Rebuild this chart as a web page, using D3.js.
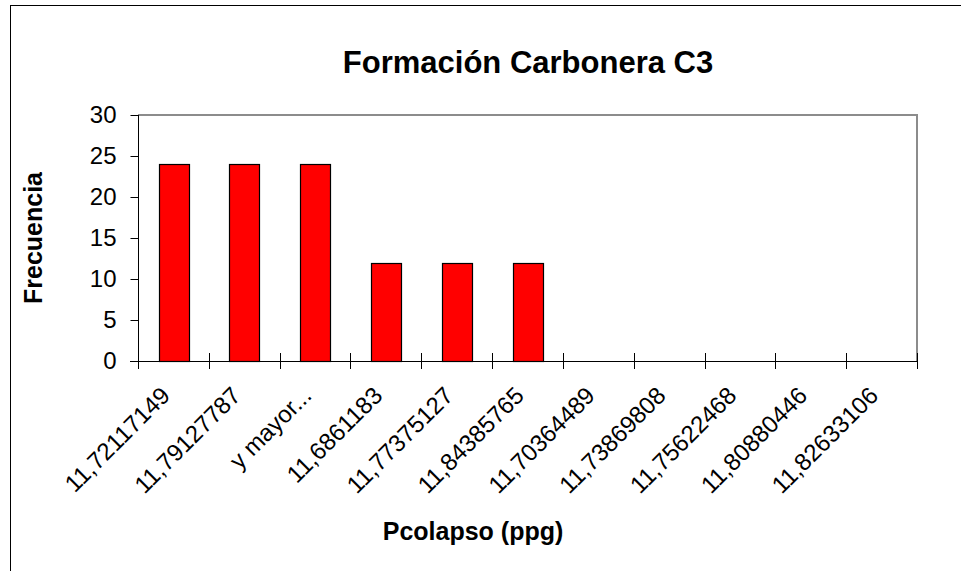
<!DOCTYPE html>
<html>
<head>
<meta charset="utf-8">
<script src="https://cdn.jsdelivr.net/npm/d3@7"></script>
<style>
  html, body { margin: 0; padding: 0; background: #fff; }
  svg { display: block; font-family: "Liberation Sans", Arial, sans-serif; }
</style>
</head>
<body>
<svg id="chart" width="961" height="571"></svg>
<script>
// Histogram of collapse pressure, Carbonera C3 formation
const categories = [
  "11,72117149", "11,79127787", "y mayor...", "11,6861183", "11,77375127",
  "11,84385765", "11,70364489", "11,73869808", "11,75622468", "11,80880446",
  "11,82633106"
];
const frequencies = [24, 24, 24, 12, 12, 12, 0, 0, 0, 0, 0];
const yTicks = [0, 5, 10, 15, 20, 25, 30];

const titleText = "Formación Carbonera C3";
const xTitle = "Pcolapso (ppg)";
const yTitle = "Frecuencia";

const svg = d3.select("#chart");
const plot = { left: 138, right: 917, top: 115, bottom: 361 };

// outer chart frame
svg.append("rect")
  .attr("x", 10.5).attr("y", 5.5)
  .attr("width", 1000).attr("height", 1000)
  .attr("fill", "none").attr("stroke", "#000").attr("stroke-width", 1);

const x = d3.scaleBand()
  .domain(categories)
  .range([plot.left, plot.right])
  .paddingInner(0.58)
  .paddingOuter(0.29);

const y = d3.scaleLinear()
  .domain([0, 30])
  .range([plot.bottom, plot.top]);

// plot area border (top and right in grey)
svg.append("path")
  .attr("d", `M${plot.left},${plot.top}H${plot.right}V${plot.bottom}`)
  .attr("fill", "none").attr("stroke", "#8c8c8c").attr("stroke-width", 2);

// bars
svg.append("g").selectAll("rect")
  .data(categories.map((c, i) => ({ c, v: frequencies[i] })).filter(d => d.v > 0))
  .join("rect")
  .attr("x", d => Math.round(x(d.c)) + 0.5)
  .attr("y", d => Math.round(y(d.v)) + 0.5)
  .attr("width", Math.round(x.bandwidth()))
  .attr("height", d => Math.round(y(0)) - Math.round(y(d.v)))
  .attr("fill", "#ff0000")
  .attr("stroke", "#000")
  .attr("stroke-width", 1.2);

// y axis
const yAxis = d3.axisLeft(y).tickValues(yTicks).tickSize(8).tickPadding(14);
const gy = svg.append("g")
  .attr("transform", `translate(${plot.left + 0.5},0)`)
  .call(yAxis);
gy.select(".domain").remove();
gy.selectAll(".tick line").attr("stroke", "#000");
gy.selectAll(".tick text")
  .attr("fill", "#000")
  .style("font-size", "24px");
svg.append("line")
  .attr("x1", plot.left + 0.5).attr("x2", plot.left + 0.5)
  .attr("y1", plot.top).attr("y2", plot.bottom + 8)
  .attr("stroke", "#000");

// x axis line and category boundary ticks
svg.append("line")
  .attr("x1", plot.left - 8).attr("x2", plot.right)
  .attr("y1", plot.bottom + 0.5).attr("y2", plot.bottom + 0.5)
  .attr("stroke", "#000");
const bounds = d3.range(categories.length + 1).map(i => x.range()[0] + i * x.step());
svg.append("g").selectAll("line")
  .data(bounds)
  .join("line")
  .attr("x1", d => Math.round(d) + 0.5).attr("x2", d => Math.round(d) + 0.5)
  .attr("y1", plot.bottom - 8).attr("y2", plot.bottom + 8)
  .attr("stroke", "#000");

// rotated category labels
svg.append("g").selectAll("text")
  .data(categories)
  .join("text")
  .attr("transform", d => `translate(${x(d) + x.bandwidth() / 2 - 2},${plot.bottom + 36}) rotate(-45)`)
  .attr("text-anchor", "end")
  .attr("fill", "#000")
  .style("font-size", "24px")
  .text(d => d);

// titles
svg.append("text")
  .attr("x", 528).attr("y", 73)
  .attr("text-anchor", "middle")
  .style("font-size", "31px").style("font-weight", "bold")
  .text(titleText);

svg.append("text")
  .attr("x", 473).attr("y", 540)
  .attr("text-anchor", "middle")
  .style("font-size", "25px").style("font-weight", "bold")
  .text(xTitle);

svg.append("text")
  .attr("transform", "translate(42,238) rotate(-90)")
  .attr("text-anchor", "middle")
  .style("font-size", "25px").style("font-weight", "bold")
  .text(yTitle);
</script>
</body>
</html>
